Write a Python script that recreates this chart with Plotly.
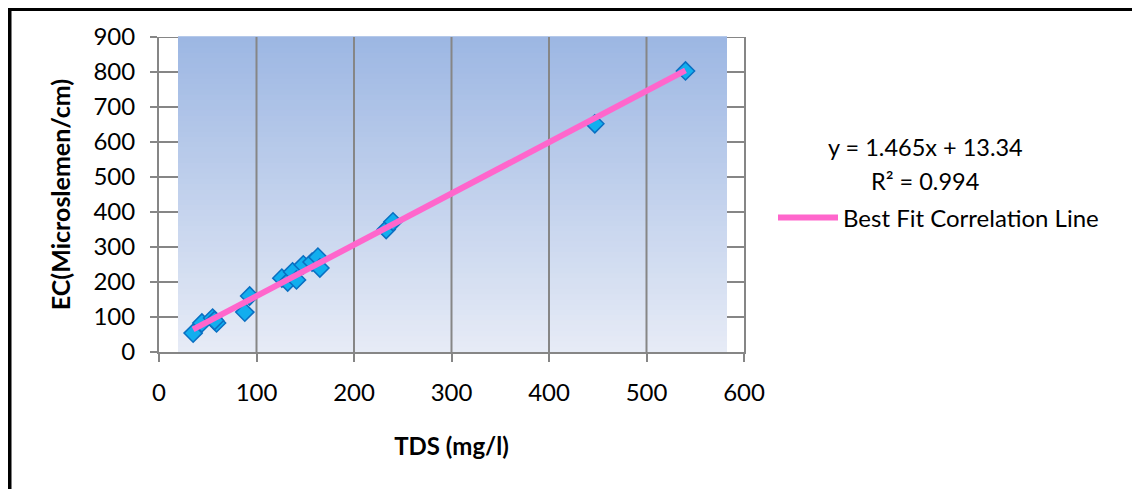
import plotly.graph_objects as go

# ---- data ----
tds = [35, 44, 55, 59, 57, 88, 93, 126, 132, 137, 141, 148, 157, 163, 165, 233, 240, 447, 540]
ec = [54, 83, 97, 83, 90, 114, 160, 211, 200, 229, 206, 249, 257, 271, 240, 350, 372, 652, 803]
fit_slope = 1.465
fit_intercept = 13.34
fit_x = [35, 540]
fit_y = [fit_slope * v + fit_intercept for v in fit_x]
eq_text = "y = 1.465x + 13.34"
r2_text = "R² = 0.994"
x_ticks = [0, 100, 200, 300, 400, 500, 600]
y_ticks = [0, 100, 200, 300, 400, 500, 600, 700, 800, 900]

FONT = "Lato"
GRID = "#868686"
OFF = 8  # browser body margin

# design in screen pixels, then convert
L, T, W, H = 159 - OFF, 37 - OFF, 585, 315
FW, FH = 1140 - OFF, 489 - OFF


def px(v):
    return (v - OFF - L) / W


def py(v):
    return (T + H - (v - OFF)) / H


fig = go.Figure()
fig.add_trace(go.Scatter(
    x=tds, y=ec, mode="markers", showlegend=False,
    marker=dict(symbol="diamond", size=14, color="#12AEEE",
                line=dict(color="#0A6FC2", width=1.5)),
))
fig.add_trace(go.Scatter(
    x=fit_x, y=fit_y, mode="lines", name="Best Fit Correlation Line",
    line=dict(color="#FF66CC", width=6),
))

shapes = []
# gradient plot-area fill
n = 60
top = (157, 183, 227)
bot = (230, 235, 246)
x0p, x1p = 19 / 585, 568 / 585
for i in range(n):
    t = i / (n - 1)
    c = tuple(round(bot[k] + (top[k] - bot[k]) * t) for k in range(3))
    shapes.append(dict(type="rect", xref="paper", yref="paper",
                       x0=x0p, x1=x1p, y0=i / n, y1=(i + 1) / n + 0.002,
                       fillcolor="rgb(%d,%d,%d)" % c, line=dict(width=0),
                       layer="below"))
# horizontal tick stubs either side of the fill
for yv in y_ticks[1:]:
    shapes.append(dict(type="line", xref="paper", yref="y", x0=0, x1=x0p,
                       y0=yv, y1=yv, line=dict(color=GRID, width=2), layer="below"))
    shapes.append(dict(type="line", xref="paper", yref="y", x0=x1p, x1=1,
                       y0=yv, y1=yv, line=dict(color=GRID, width=2), layer="below"))
# vertical gridlines on top of the fill
for xv in x_ticks[1:-1]:
    shapes.append(dict(type="line", xref="x", yref="paper", x0=xv, x1=xv,
                       y0=0, y1=1, line=dict(color=GRID, width=2),
                       layer="below"))
# outer black frame
shapes.append(dict(type="rect", xref="paper", yref="paper",
                   x0=px(9.5), x1=px(1170), y0=py(9), y1=py(530),
                   line=dict(color="black", width=4), fillcolor="rgba(0,0,0,0)",
                   layer="above"))

fig.update_layout(
    width=FW, height=FH,
    margin=dict(l=L, r=FW - L - W, t=T, b=FH - T - H),
    paper_bgcolor="white", plot_bgcolor="white",
    font=dict(family=FONT, size=24, color="black"),
    shapes=shapes,
    showlegend=True,
    legend=dict(x=px(773), y=py(218), xanchor="left", yanchor="middle",
                bgcolor="rgba(0,0,0,0)", font=dict(size=24, family=FONT),
                itemwidth=60),
    annotations=[
        dict(text=eq_text, xref="paper", yref="paper", x=px(925), y=py(147),
             xanchor="center", yanchor="middle",
             showarrow=False, font=dict(size=23.5, family=FONT)),
        dict(text=r2_text, xref="paper", yref="paper", x=px(925), y=py(181),
             xanchor="center", yanchor="middle",
             showarrow=False, font=dict(size=23.5, family=FONT)),
    ],
)
fig.update_xaxes(
    range=[0, 600], tickvals=x_ticks, ticktext=[str(v) for v in x_ticks],
    showgrid=False, zeroline=False,
    showline=True, linecolor=GRID, linewidth=2,
    ticks="outside", ticklen=8, tickcolor=GRID, tickwidth=2,
    ticklabelstandoff=10,
    title=dict(text="<b>TDS (mg/l)</b>", font=dict(size=24, family=FONT), standoff=33),
)
fig.update_yaxes(
    range=[0, 900], tickvals=y_ticks, ticktext=[str(v) for v in y_ticks],
    showgrid=False, zeroline=False,
    showline=True, linecolor=GRID, linewidth=2, mirror=True,
    ticks="outside", ticklen=7, tickcolor=GRID, tickwidth=2,
    ticklabelstandoff=10,
    title=dict(text="<b>EC(Microslemen/cm)</b>", font=dict(size=25, family=FONT), standoff=16),
)

fig.write_html("out.html")
